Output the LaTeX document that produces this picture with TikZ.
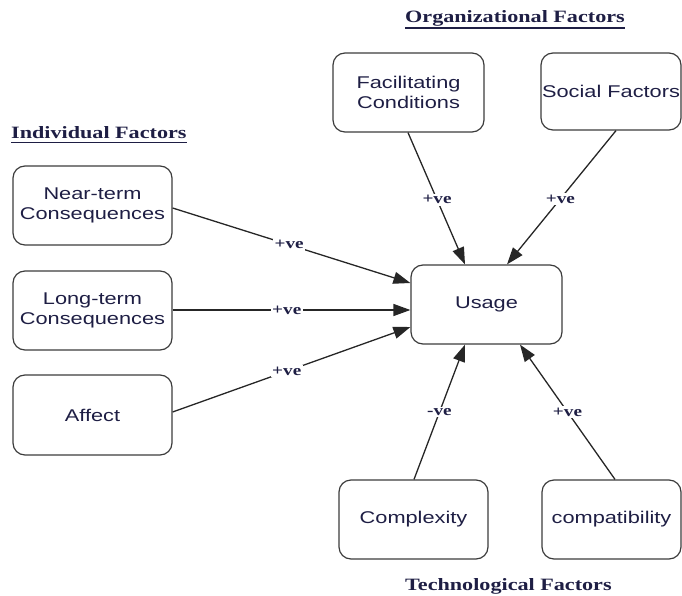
\documentclass[tikz,border=0pt]{standalone}
\usepackage{fontspec}
\usetikzlibrary{arrows.meta,calc}
\newfontfamily\boxfont[FakeStretch=1.28]{Liberation Sans}
\newfontfamily\headfont[FakeStretch=1.28]{Liberation Serif}
\definecolor{inkblue}{RGB}{30,30,68}
\definecolor{edgegray}{RGB}{60,60,60}
\tikzset{
  factor/.style={draw=edgegray, line width=1.2pt, rounded corners=12pt,
    inner sep=0pt, align=center, text=inkblue,
    font=\boxfont\fontsize{17}{19.5}\selectfont},
  heading/.style={inner sep=0pt, anchor=base west, text=inkblue,
    font=\headfont\bfseries\fontsize{17.3}{20}\selectfont},
  arr/.style={draw=black!85, line width=1.3pt,
    -{Triangle[length=17pt,width=12pt]}},
  sign/.style={fill=white, inner sep=1.5pt, text=inkblue,
    font=\headfont\bfseries\fontsize{15}{17}\selectfont}
}
\begin{document}
\begin{tikzpicture}[x=1pt,y=-1pt]
\useasboundingbox (0,0) rectangle (682,596);

% headings
\node[heading] (hind) at (11,139) {Individual Factors};
\node[heading] (horg) at (405,23) {Organizational Factors};
\node[heading] (htech) at (405,590) {Technological Factors};
\draw[inkblue, line width=1.3pt] ([yshift=-3.5pt]hind.base west) -- ([yshift=-3.5pt]hind.base east);
\draw[inkblue, line width=1.3pt] ([yshift=-5pt]horg.base west) -- ([yshift=-5pt]horg.base east);

% factor boxes
\node[factor, minimum width=159pt, minimum height=79pt] (near) at (92.5,205.5) {Near-term\\Consequences};
\node[factor, minimum width=159pt, minimum height=79pt] (long) at (92.5,310.5) {Long-term\\Consequences};
\node[factor, minimum width=159pt, minimum height=80pt] (affect) at (92.5,415) {Affect};
\node[factor, minimum width=151pt, minimum height=79pt] (usage) at (486.5,304.5) {Usage};
\node[factor, minimum width=151pt, minimum height=79pt] (facil) at (408.5,92.5) {Facilitating\\Conditions};
\node[factor, minimum width=140pt, minimum height=77pt] (social) at (611,91.5) {Social Factors};
\node[factor, minimum width=149pt, minimum height=79pt] (complex) at (413.5,519.5) {Complexity};
\node[factor, minimum width=139pt, minimum height=79pt] (compat) at (611.5,519.5) {compatibility};

% influences on usage
\draw[arr] ($(near.east)+(0,2.5)$) -- node[sign, pos=0.49] {+ve} ($(usage.west)+(0,-21.5)$);
\draw[arr] ($(long.east)+(0,-0.5)$) -- node[sign, pos=0.48] {+ve} ($(usage.west)+(0,5.5)$);
\draw[arr] ($(affect.east)+(0,-3)$) -- node[sign, pos=0.48] {+ve} ($(usage.west)+(0,22.5)$);
\draw[arr] ($(facil.south)+(-0.5,0)$) -- node[sign, pos=0.51] {+ve} ($(usage.north)+(-21.5,0)$);
\draw[arr] ($(social.south)+(5,0)$) -- node[sign, pos=0.51] {+ve} ($(usage.north)+(20.5,0)$);
\draw[arr] ($(complex.north)+(0.5,0)$) -- node[sign, pos=0.5] {-ve} ($(usage.south)+(-21.5,0)$);
\draw[arr] ($(compat.north)+(3.5,0)$) -- node[sign, pos=0.5] {+ve} ($(usage.south)+(33.5,0)$);
\end{tikzpicture}
\end{document}
